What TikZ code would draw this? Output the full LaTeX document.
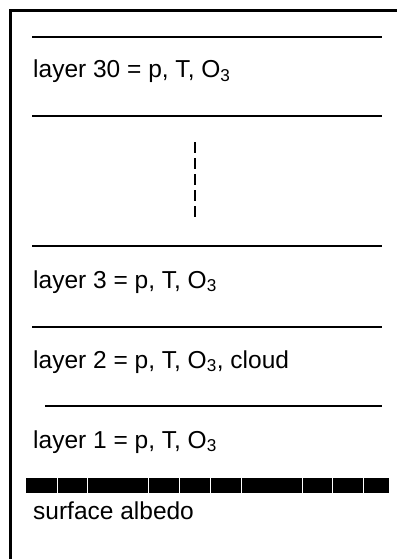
\documentclass[tikz,border=0pt]{standalone}
\usepackage{fontspec}
\setmainfont{Liberation Sans}

\begin{document}
\begin{tikzpicture}[x=1pt,y=-1pt,
    layertext/.style={anchor=base west,inner sep=0pt,font=\fontsize{24.5}{29}\selectfont},
    layerline/.style={line width=2.5pt}]
    \useasboundingbox (0,0) rectangle (397,559);
    \pgfmathsetmacro{\l}{32}
    \pgfmathsetmacro{\r}{382}
    % frame
    \draw[line width=2.2pt] (10.5,559) -- (10.5,10.5) -- (397,10.5);
    % layer boundaries
    \foreach \y in {37,116,246,327}{
        \draw[layerline] (\l,\y) -- (\r,\y);
    };
    \draw[layerline] (45,406) -- (\r,406);
    \draw[line width=2.3pt,dash pattern=on 11pt off 5pt] (195,142) -- (195,218);
    % surface
    \fill[black] (26,478) rectangle (389,493);
    \foreach \x in {57,87,148,179,210,241,302,332,363}{
        \draw[white,line width=0.8pt] (\x,478) -- (\x,493);
    };
    \node[layertext] (l30) at (33,78) {layer 30 = p, T, O\textsubscript{3}};
    \node[layertext] (l3) at (33,288) {layer 3 = p, T, O\textsubscript{3}};
    \node[layertext] (l2) at (33,368) {layer 2 = p, T, O\textsubscript{3}, cloud};
    \node[layertext] (l1) at (33,448) {layer 1 = p, T, O\textsubscript{3}};
    \node[layertext] (alb) at (33,519) {surface albedo};
\end{tikzpicture}
\end{document}
